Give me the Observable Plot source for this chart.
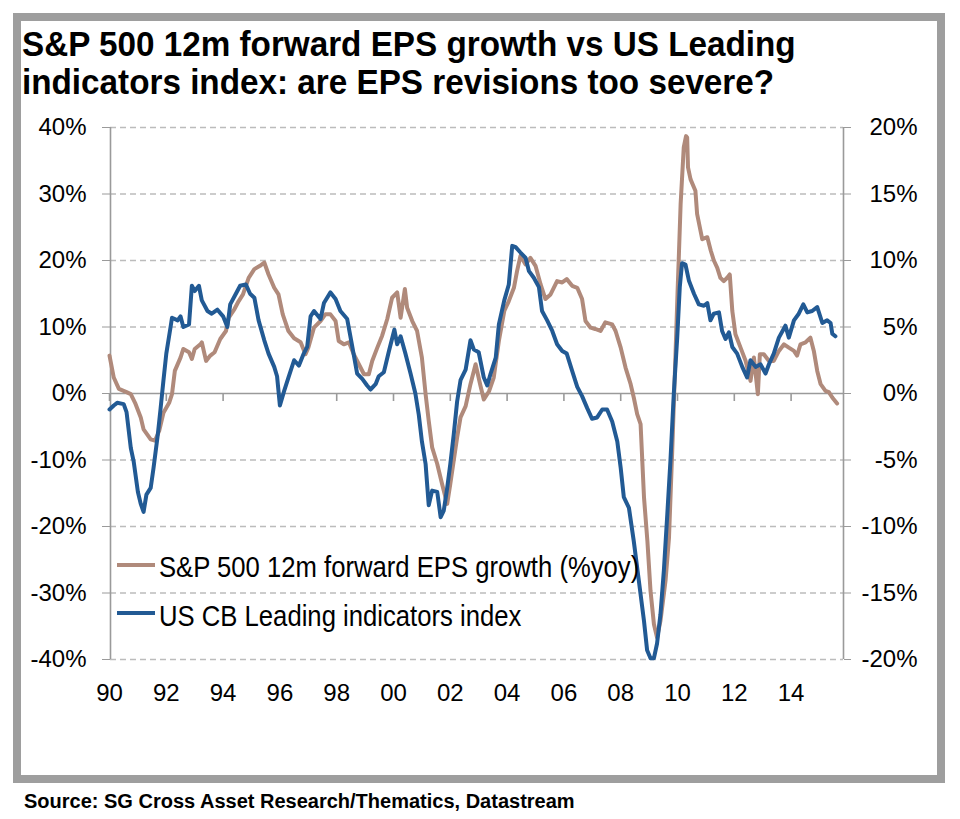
<!DOCTYPE html>
<html><head><meta charset="utf-8">
<script src="https://cdn.jsdelivr.net/npm/d3@7"></script>
<script src="https://cdn.jsdelivr.net/npm/@observablehq/plot@0.6"></script>
<style>
body{margin:0;background:#fff;}
#wrap{position:relative;width:960px;height:819px;overflow:hidden;font-family:"Liberation Sans",Arial,Helvetica,sans-serif;color:#000;}
#frame{position:absolute;left:13px;top:13px;width:916px;height:754px;border:8px solid #9e9e9e;}
.t{position:absolute;white-space:nowrap;line-height:1;transform-origin:0 0;}
.title{left:22px;font-weight:bold;font-size:35px;transform:scaleX(0.95);}
.lg{left:159px;font-size:29px;transform:scaleX(0.885);}
.sw{position:absolute;left:117px;width:38px;height:4px;}
#src{left:24px;top:791px;font-weight:bold;font-size:20px;}
#chart{position:absolute;left:0;top:0;}
</style>
</head><body>
<div id="wrap">
  <div id="frame"></div>
  <div id="chart"></div>
  <div class="t title" style="top:26.4px">S&amp;P 500 12m forward EPS growth vs US Leading</div>
  <div class="t title" style="top:64.4px">indicators index: are EPS revisions too severe?</div>
  <div class="sw" style="top:563px;background:#b08a7b"></div>
  <div class="t lg" style="top:552.5px">S&amp;P 500 12m forward EPS growth (%yoy)</div>
  <div class="sw" style="top:611px;background:#225a94"></div>
  <div class="t lg" style="top:601.5px">US CB Leading indicators index</div>
  <div class="t" id="src">Source: SG Cross Asset Research/Thematics, Datastream</div>
</div>
<script>
// S&P 500 12m forward EPS growth (%yoy), left axis
const epsYears = [1990.0,1990.15,1990.33,1990.6,1990.75,1990.9,1991.1,1991.2,1991.45,1991.6,1991.75,1991.9,1992.1,1992.2,1992.3,1992.5,1992.6,1992.8,1992.9,1993.0,1993.2,1993.25,1993.4,1993.55,1993.7,1993.9,1994.1,1994.2,1994.4,1994.55,1994.7,1994.9,1995.1,1995.3,1995.45,1995.6,1995.8,1995.95,1996.1,1996.3,1996.5,1996.73,1996.9,1997.0,1997.2,1997.43,1997.6,1997.78,1997.96,1998.07,1998.25,1998.43,1998.6,1998.78,1998.96,1999.13,1999.25,1999.43,1999.6,1999.78,1999.95,2000.13,2000.25,2000.4,2000.48,2000.66,2000.83,2001.0,2001.13,2001.24,2001.36,2001.54,2001.71,2001.89,2002.0,2002.12,2002.24,2002.36,2002.54,2002.71,2002.89,2003.06,2003.18,2003.36,2003.53,2003.71,2003.9,2004.06,2004.24,2004.35,2004.47,2004.65,2004.82,2005.0,2005.18,2005.35,2005.53,2005.76,2005.94,2006.1,2006.29,2006.47,2006.64,2006.76,2006.94,2007.1,2007.29,2007.46,2007.7,2007.82,2008.0,2008.17,2008.35,2008.46,2008.58,2008.7,2008.76,2008.82,2008.94,2009.05,2009.17,2009.28,2009.4,2009.58,2009.7,2009.81,2009.93,2010.0,2010.05,2010.11,2010.22,2010.3,2010.34,2010.37,2010.46,2010.63,2010.69,2010.87,2011.05,2011.17,2011.28,2011.4,2011.51,2011.63,2011.75,2011.84,2011.93,2012.04,2012.22,2012.4,2012.57,2012.69,2012.83,2012.9,2013.04,2013.22,2013.39,2013.57,2013.75,2013.92,2014.1,2014.21,2014.33,2014.51,2014.68,2014.8,2014.92,2015.04,2015.21,2015.33,2015.45,2015.62];
const epsValues = [5.7,2.4,0.7,0.2,-0.1,-1.4,-3.6,-5.4,-6.9,-7.1,-5.6,-2.9,-1.4,-0.1,3.4,5.4,6.7,6.2,5.2,6.7,7.4,7.7,4.9,5.7,6.2,8.2,9.4,11.4,12.7,13.9,14.9,17.4,18.7,19.2,19.7,17.9,15.9,14.9,11.9,9.4,8.3,7.7,5.9,6.9,9.9,10.9,11.9,11.9,10.9,7.9,7.4,7.7,5.9,4.4,2.9,2.9,4.9,6.9,8.7,11.2,14.4,15.2,11.4,15.7,12.9,10.9,9.4,5.4,-0.1,-4.1,-8.1,-10.6,-13.6,-16.6,-13.6,-10.1,-6.6,-3.6,-1.9,1.4,4.4,1.2,-0.9,0.3,2.4,7.9,12.4,13.9,15.9,18.4,20.7,19.4,20.4,19.2,16.4,14.2,14.9,16.9,16.7,17.2,16.2,15.9,14.2,10.9,9.9,9.7,9.4,10.7,10.4,9.4,6.9,3.9,1.4,-0.6,-3.1,-4.6,-10.1,-15.6,-22.2,-29.7,-34.7,-36.7,-34.2,-28.1,-21.7,-9.1,5.9,15.0,21.0,28.5,37.0,38.7,38.5,34.0,32.2,30.5,27.0,23.2,23.5,21.5,20.0,18.9,17.4,16.9,17.4,17.9,12.4,8.9,6.9,4.9,1.9,5.4,-0.1,5.9,5.9,4.9,4.9,6.4,7.4,6.9,6.4,5.7,7.4,7.7,8.4,6.4,3.4,1.4,0.4,0.2,-0.6,-1.5];

// US CB Leading indicators index (%yoy), right axis
const leiYears = [1990.0,1990.15,1990.27,1990.5,1990.6,1990.75,1990.85,1991.0,1991.1,1991.2,1991.3,1991.45,1991.55,1991.7,1991.8,1991.9,1992.0,1992.15,1992.2,1992.4,1992.5,1992.6,1992.8,1992.9,1993.0,1993.15,1993.25,1993.45,1993.6,1993.8,1994.0,1994.15,1994.25,1994.45,1994.6,1994.8,1994.95,1995.1,1995.25,1995.45,1995.6,1995.8,1995.9,1996.0,1996.15,1996.3,1996.5,1996.67,1996.84,1996.96,1997.08,1997.2,1997.43,1997.55,1997.78,1997.96,1998.13,1998.37,1998.55,1998.72,1998.9,1999.07,1999.19,1999.37,1999.48,1999.66,1999.84,2000.03,2000.13,2000.25,2000.42,2000.6,2000.77,2000.89,2001.0,2001.13,2001.24,2001.36,2001.54,2001.66,2001.77,2001.89,2002.0,2002.12,2002.24,2002.36,2002.54,2002.71,2002.83,2003.0,2003.18,2003.3,2003.42,2003.6,2003.71,2003.9,2004.06,2004.18,2004.3,2004.47,2004.65,2004.77,2004.94,2005.12,2005.23,2005.41,2005.59,2005.76,2005.94,2006.1,2006.29,2006.47,2006.64,2006.82,2006.99,2007.17,2007.35,2007.52,2007.7,2007.88,2008.0,2008.11,2008.29,2008.46,2008.64,2008.82,2008.93,2009.05,2009.17,2009.28,2009.4,2009.52,2009.64,2009.75,2009.87,2009.99,2010.08,2010.16,2010.28,2010.4,2010.58,2010.75,2010.93,2011.05,2011.16,2011.28,2011.46,2011.57,2011.69,2011.81,2011.93,2012.1,2012.28,2012.45,2012.57,2012.75,2012.92,2013.1,2013.22,2013.39,2013.57,2013.8,2013.92,2014.1,2014.27,2014.43,2014.57,2014.74,2014.92,2015.1,2015.27,2015.39,2015.45,2015.56];
const leiValues = [-1.2,-0.9,-0.7,-0.8,-1.4,-4.1,-5.1,-7.4,-8.3,-8.9,-7.6,-7.1,-5.6,-3.1,-1.1,1.0,3.0,5.0,5.7,5.5,5.8,5.0,5.2,8.1,7.7,8.1,7.0,6.2,6.0,6.3,5.8,5.0,6.7,7.5,8.1,8.2,7.5,7.2,5.5,4.0,3.0,2.0,1.3,-0.9,0.2,1.2,2.5,2.1,3.0,3.5,5.8,6.2,5.6,6.8,7.6,7.1,6.2,5.6,3.5,1.5,1.1,0.6,0.3,0.7,1.3,1.6,3.2,4.8,3.7,4.3,3.0,1.5,0.0,-1.6,-3.6,-5.3,-8.4,-7.3,-7.4,-9.3,-8.8,-7.1,-5.3,-3.1,-0.6,1.0,1.8,4.0,3.3,3.1,1.2,0.6,1.5,2.7,5.2,7.0,8.2,11.1,11.0,10.6,10.2,9.2,8.7,8.0,6.2,5.5,4.7,3.7,3.2,3.0,1.7,0.5,-0.2,-1.1,-1.9,-1.8,-1.2,-1.2,-2.1,-3.6,-5.6,-7.8,-8.6,-11.1,-14.1,-17.1,-19.3,-19.9,-19.9,-18.8,-16.6,-13.3,-9.1,-5.1,0.0,4.2,8.0,9.8,9.7,8.5,7.5,6.7,6.6,6.8,5.5,6.0,6.1,4.7,4.1,4.6,3.5,3.0,2.0,1.2,2.5,2.0,2.2,1.5,2.2,3.0,4.2,5.1,4.2,5.5,6.0,6.7,6.1,6.2,6.5,5.3,5.5,5.3,4.5,4.3];

const xDomain = [1990.035, 2015.845];
const xTickYears = [1990,1992,1994,1996,1998,2000,2002,2004,2006,2008,2010,2012,2014];
const leftTicks = [-40,-30,-20,-10,0,10,20,30,40];
const gridValues = [-40,-30,-20,-10,10,20,30,40];
const rightScale = 2; // right axis = left axis / 2

const brown = "#b08a7b";
const blue = "#225a94";
const axisGray = "#9a9a9a";

const eps = epsYears.map((t, i) => ({year: t, v: epsValues[i]}));
const lei = leiYears.map((t, i) => ({year: t, v: leiValues[i]}));

const chart = Plot.plot({
  width: 960,
  height: 740,
  marginLeft: 110,
  marginRight: 117,
  marginTop: 127,
  marginBottom: 81,
  x: {domain: xDomain},
  y: {domain: [-40, 40]},
  style: {fontFamily: '"Liberation Sans", Arial, Helvetica, sans-serif', fontSize: "24px", background: "transparent", color: "black", overflow: "visible"},
  marks: [
    Plot.ruleY(gridValues, {stroke: "#bcbcbc", strokeDasharray: "6,4", strokeWidth: 1.3}),
    Plot.ruleY([0], {stroke: axisGray, strokeWidth: 1.6}),
    Plot.ruleX(xTickYears, {x: d => d, y1: d => 0, y2: d => 0, insetBottom: -8, stroke: axisGray, strokeWidth: 1.6}),
    Plot.ruleX(xDomain, {stroke: axisGray, strokeWidth: 1.6}),
    Plot.line(eps, {x: "year", y: "v", stroke: brown, strokeWidth: 4, strokeLinejoin: "round"}),
    Plot.line(lei, {x: "year", y: d => d.v * rightScale, stroke: blue, strokeWidth: 4, strokeLinejoin: "round"}),
    Plot.axisY({anchor: "left", ticks: leftTicks, tickSize: 8, tickPadding: 16, tickFormat: d => d + "%", stroke: axisGray, fill: "black", label: null}),
    Plot.axisY({anchor: "right", ticks: leftTicks, tickSize: 7, tickPadding: 67, textAnchor: "end", tickFormat: d => (d / rightScale) + "%", stroke: axisGray, fill: "black", label: null}),
    Plot.axisX({anchor: "bottom", ticks: xTickYears, tickSize: 0, tickPadding: 24, tickFormat: d => String(d % 100).padStart(2, "0"), fill: "black", label: null})
  ]
});
document.getElementById("chart").appendChild(chart);
</script>
</body></html>
